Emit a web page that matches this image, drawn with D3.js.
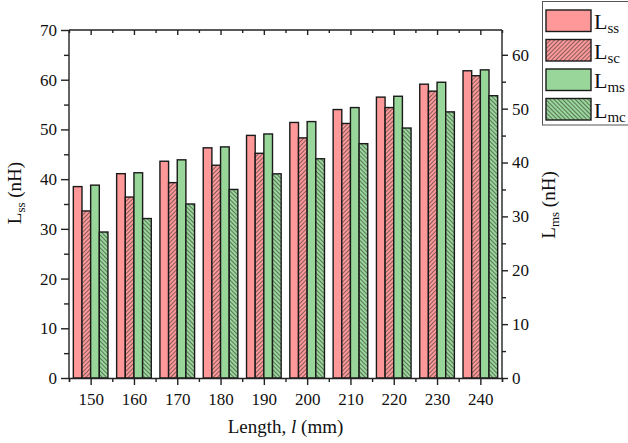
<!DOCTYPE html>
<html><head><meta charset="utf-8">
<script src="https://cdn.jsdelivr.net/npm/d3@7"></script>
<style>body{margin:0;background:#fff}svg{display:block}</style>
</head><body><svg id="c" width="628" height="443"></svg>
<script>
const lengths = [150,160,170,180,190,200,210,220,230,240];
const Lss = [38.5,41.1,43.6,46.3,48.8,51.4,54.0,56.5,59.1,61.8];
const Lsc = [33.6,36.4,39.3,42.8,45.2,48.3,51.2,54.4,57.7,60.8];
const Lms = [35.8,38.1,40.5,42.9,45.3,47.6,50.2,52.3,54.9,57.2];
const Lmc = [27.1,29.6,32.3,35.0,37.9,40.7,43.5,46.4,49.4,52.4];
const leftTicks = [0,10,20,30,40,50,60,70];
const rightTicks = [0,10,20,30,40,50,60];
const seriesNames = ["ss","sc","ms","mc"];

const FONT = "Liberation Serif";
const svg = d3.select("#c");
const L = 69, R = 502, T = 30, B = 378;
const x = d3.scaleLinear().domain([145,245]).range([L,R]);
const yL = d3.scaleLinear().domain([0,70]).range([B,T]);
const yR = d3.scaleLinear().domain([0,64.6]).range([B,T]);

const pink = "#FF9999", green = "#99D699";
const defs = svg.append("defs");
function hatch(id, color, angle){
  const p = defs.append("pattern").attr("id",id).attr("patternUnits","userSpaceOnUse")
    .attr("width",3).attr("height",3).attr("patternTransform",`rotate(${angle})`);
  p.append("rect").attr("width",3).attr("height",3).attr("fill",color);
  p.append("line").attr("x1",0.5).attr("x2",0.5).attr("y1",0).attr("y2",3)
    .attr("stroke","#333").attr("stroke-width",0.6);
}
hatch("hp", pink, 45);
hatch("hg", green, -45);

const series = [
  {vals:Lss, fill:pink, y:yL},
  {vals:Lsc, fill:"url(#hp)", y:yL},
  {vals:Lms, fill:green, y:yR},
  {vals:Lmc, fill:"url(#hg)", y:yR}
];

series.forEach((s,i)=>{
  svg.append("g").selectAll("rect").data(lengths).join("rect")
    .attr("x", d=>x(d-4+2*i))
    .attr("width", d=>x(d-2+2*i)-x(d-4+2*i))
    .attr("y", (d,j)=>s.y(s.vals[j]))
    .attr("height", (d,j)=>B - s.y(s.vals[j]))
    .attr("fill", s.fill).attr("stroke","#1a1a1a").attr("stroke-width",1.4);
});

function styleAxis(g){
  g.attr("font-family", FONT).attr("font-size", 17);
  g.selectAll("path,line").attr("stroke","#222").attr("stroke-width",1.4);
  g.selectAll("text").attr("fill","#111");
}
const minorX = d3.range(145,246,10);
svg.append("g").attr("transform",`translate(0,${B})`)
  .call(d3.axisBottom(x).tickValues(lengths).tickSize(7).tickPadding(8).tickFormat(d3.format("d")))
  .call(styleAxis).call(g=>g.select(".domain").remove());
svg.append("g").attr("transform",`translate(0,${B})`)
  .call(d3.axisBottom(x).tickValues(minorX).tickSize(4).tickFormat(""))
  .call(styleAxis);
svg.append("g").attr("transform",`translate(0,${T})`)
  .call(d3.axisBottom(x).tickValues(lengths).tickSize(5).tickFormat(""))
  .call(styleAxis).call(g=>g.select(".domain").remove());
svg.append("g").attr("transform",`translate(0,${T})`)
  .call(d3.axisBottom(x).tickValues(minorX).tickSize(3).tickFormat(""))
  .call(styleAxis).call(g=>g.select(".domain").attr("d",`M${L},0H${R}`));
svg.append("g").attr("transform",`translate(${L},0)`)
  .call(d3.axisLeft(yL).tickValues(leftTicks).tickSize(8).tickPadding(4).tickFormat(d3.format("d")))
  .call(styleAxis).call(g=>g.select(".domain").attr("d",`M0,${B}V${T}`));
svg.append("g").attr("transform",`translate(${L},0)`)
  .call(d3.axisLeft(yL).tickValues(d3.range(5,70,10)).tickSize(5).tickFormat(""))
  .call(styleAxis).call(g=>g.select(".domain").remove());
svg.append("g").attr("transform",`translate(${R},0)`)
  .call(d3.axisRight(yR).tickValues(rightTicks).tickSize(6).tickPadding(4).tickFormat(d3.format("d")))
  .call(styleAxis).call(g=>g.select(".domain").attr("d",`M0,${B}V${T}`));
svg.append("g").attr("transform",`translate(${R},0)`)
  .call(d3.axisRight(yR).tickValues(d3.range(5,64,10)).tickSize(4).tickFormat(""))
  .call(styleAxis).call(g=>g.select(".domain").remove());

const xt = svg.append("text").attr("x",(L+R)/2).attr("y",433).attr("text-anchor","middle")
  .attr("font-family",FONT).attr("font-size",19).attr("fill","#111");
xt.append("tspan").text("Length, ");
xt.append("tspan").attr("font-style","italic").text("l");
xt.append("tspan").text(" (mm)");

function yTitle(xp, yp, sub){
  const t = svg.append("text").attr("transform",`translate(${xp},${yp}) rotate(-90)`).attr("text-anchor","middle")
    .attr("font-family",FONT).attr("font-size",19).attr("fill","#111");
  t.append("tspan").text("L");
  t.append("tspan").attr("dy",4).attr("font-size",13).text(sub);
  t.append("tspan").attr("dy",-4).text(" (nH)");
}
yTitle(21, 193, "ss");
yTitle(555, 205, "ms");

const lg = svg.append("g");
lg.append("rect").attr("x",542.5).attr("y",1.5).attr("width",100).attr("height",123.5)
  .attr("fill","#fff").attr("stroke","#555").attr("stroke-width",1);
series.forEach((s,i)=>{
  const yy = 10 + i*29.5;
  lg.append("rect").attr("x",546).attr("y",yy).attr("width",45).attr("height",21.5)
    .attr("fill",s.fill).attr("stroke","#1a1a1a").attr("stroke-width",1.4);
  const t = lg.append("text").attr("x",594).attr("y",yy+19).attr("font-family",FONT).attr("font-size",22).attr("fill","#111");
  t.append("tspan").text("L");
  t.append("tspan").attr("dy",4).attr("font-size",15).text(seriesNames[i]);
});
</script></body></html>
